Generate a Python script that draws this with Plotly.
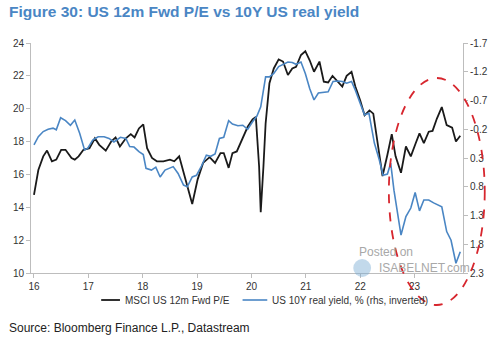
import plotly.graph_objects as go

# ---- data (x in years since 2000) ----
pe_x = [16.00,16.08,16.17,16.24,16.33,16.41,16.50,16.58,16.69,16.75,16.82,16.91,
        17.02,17.12,17.20,17.32,17.42,17.50,17.58,17.69,17.78,17.85,17.93,
        18.01,18.08,18.17,18.26,18.38,18.50,18.58,18.67,18.79,18.91,
        19.01,19.11,19.23,19.33,19.43,19.49,19.58,19.65,19.73,19.84,19.93,
        20.02,20.08,20.14,20.17,20.22,20.26,20.33,20.41,20.50,20.58,20.67,20.75,20.82,20.91,20.99,
        21.07,21.15,21.25,21.33,21.41,21.49,21.59,21.67,21.75,21.84,21.91,
        22.00,22.08,22.17,22.24,22.32,22.41,22.50,22.58,22.65,22.75,22.84,22.93,
        23.02,23.09,23.17,23.26,23.33,23.41,23.50,23.59,23.69,23.76,23.84]
pe_y = [14.75,16.27,17.1,17.45,16.8,16.9,17.5,17.5,17.0,16.9,17.1,17.5,
        17.6,18.2,17.8,17.45,18.0,18.25,17.7,18.2,18.45,18.25,18.8,
        19.05,17.6,17.0,16.8,16.8,16.9,16.8,17.1,15.7,14.2,
        15.7,16.7,17.05,16.7,17.3,17.3,16.4,17.3,17.4,18.2,18.9,
        19.35,19.5,16.5,13.7,16.5,19.1,21.55,22.45,23.0,22.87,22.05,22.45,22.55,23.27,23.5,
        22.95,22.25,22.87,21.65,21.6,22.0,21.65,21.35,22.0,22.25,21.35,
        20.5,19.6,19.9,19.7,17.8,15.9,17.2,18.45,17.1,16.1,17.7,17.1,
        17.9,18.5,17.9,18.6,18.65,19.4,20.1,19.0,18.85,18.0,18.35]

ry_x = [16.00,16.08,16.17,16.26,16.35,16.41,16.49,16.58,16.67,16.75,16.84,16.93,16.99,
        17.08,17.18,17.29,17.38,17.47,17.59,17.69,17.76,17.84,17.93,
        18.01,18.06,18.16,18.24,18.32,18.41,18.56,18.65,18.75,18.82,18.91,18.99,
        19.08,19.17,19.25,19.33,19.41,19.49,19.58,19.65,19.75,19.84,19.93,
        20.02,20.10,20.17,20.26,20.33,20.41,20.50,20.58,20.67,20.75,20.82,20.91,20.99,
        21.07,21.15,21.23,21.33,21.41,21.50,21.59,21.67,21.75,21.84,21.91,
        22.00,22.08,22.16,22.26,22.35,22.42,22.50,22.56,22.62,22.75,22.84,22.93,
        23.01,23.09,23.17,23.26,23.35,23.50,23.59,23.67,23.76,23.84]
ry_y = [0.07,-0.07,-0.16,-0.20,-0.22,-0.19,-0.40,-0.35,-0.27,-0.36,-0.13,0.16,0.13,
        -0.01,-0.07,-0.07,-0.04,0.02,-0.06,-0.04,0.10,0.11,0.19,
        0.24,0.48,0.51,0.46,0.63,0.51,0.45,0.57,0.77,0.80,0.63,0.60,
        0.44,0.25,0.27,0.23,-0.04,-0.06,-0.35,-0.29,-0.26,-0.27,-0.20,
        -0.33,-0.43,-0.59,-1.11,-1.11,-1.17,-1.29,-1.33,-1.37,-1.36,-1.33,-1.37,-1.17,
        -0.91,-0.71,-0.83,-0.84,-0.85,-1.03,-1.04,-1.03,-1.00,-1.03,-0.88,
        -0.65,-0.45,-0.48,0.04,0.33,0.60,0.58,0.39,0.86,1.64,1.32,1.17,
        0.90,1.22,1.03,1.03,1.08,1.15,1.58,1.73,2.13,1.93]

year_ticks = [16, 17, 18, 19, 20, 21, 22, 23]
year_labels = ["16", "17", "18", "19", "20", "21", "22", "23"]
left_ticks = [10, 12, 14, 16, 18, 20, 22, 24]
right_ticks = [-1.7, -1.2, -0.7, -0.2, 0.3, 0.8, 1.3, 1.8, 2.3]
right_labels = ["-1.7", "-1.2", "-0.7", "-0.2", "0.3", "0.8", "1.3", "1.8", "2.3"]
series_names = ["MSCI US 12m Fwd P/E", "US 10Y real yield, % (rhs, inverted)"]

BLUE = "#4a86c4"
BLACK = "#1a1a1a"
FONT = "Liberation Sans, Arial, sans-serif"

fig = go.Figure()
fig.add_trace(go.Scatter(x=pe_x, y=pe_y, mode="lines", name=series_names[0],
                         line=dict(color=BLACK, width=1.8)))
fig.add_trace(go.Scatter(x=ry_x, y=ry_y, mode="lines", yaxis="y2", name=series_names[1],
                         line=dict(color=BLUE, width=1.6)))

L, R, T, B = 31, 32, 43, 66
W, H = 500, 339
pw, ph = W - L - R, H - T - B

def px(xp):
    return (xp - L) / pw

def py(yp):
    return (H - B - yp) / ph

axis_common = dict(showgrid=False, zeroline=False, showline=True, linecolor="#bdbdbd",
                   linewidth=1, ticks="outside", ticklen=4, tickcolor="#bdbdbd",
                   tickfont=dict(family=FONT, size=10, color="#333333"))

fig.update_layout(
    width=W, height=H,
    margin=dict(l=L, r=R, t=T, b=B),
    paper_bgcolor="white", plot_bgcolor="white",
    font=dict(family=FONT),
    xaxis=dict(range=[15.945, 23.89], tickvals=year_ticks, ticktext=year_labels, **axis_common),
    yaxis=dict(range=[10, 24], tickvals=left_ticks, **axis_common),
    yaxis2=dict(range=[2.3, -1.7], tickvals=right_ticks, ticktext=right_labels,
                overlaying="y", side="right", **axis_common),
    showlegend=False,
)

# legend (drawn manually)
legend_items = [(series_names[0], BLACK, 1.8, 102, 121, 124),
                (series_names[1], BLUE, 1.6, 245, 270, 273)]
for name, col, w, a, b, tx in legend_items:
    fig.add_shape(type="line", xref="paper", yref="paper", x0=px(a), x1=px(b),
                  y0=py(300), y1=py(300), line=dict(color=col, width=w))
    fig.add_annotation(text=name, xref="paper", yref="paper", x=px(tx), y=py(300),
                       xanchor="left", yanchor="middle", showarrow=False,
                       font=dict(family=FONT, size=10, color="#333333"))

# title and source
fig.add_annotation(text="<b>Figure 30: US 12m Fwd P/E vs 10Y US real yield</b>",
                   xref="paper", yref="paper", x=px(7), y=py(12), xanchor="left", yanchor="middle",
                   showarrow=False, font=dict(family=FONT, size=15.5, color=BLUE))
fig.add_annotation(text="Source: Bloomberg Finance L.P., Datastream",
                   xref="paper", yref="paper", x=px(7), y=py(328), xanchor="left", yanchor="middle",
                   showarrow=False, font=dict(family=FONT, size=12, color="#222222"))

# watermark
fig.add_annotation(text="Posted on", xref="paper", yref="paper", x=px(361), y=py(252),
                   xanchor="left", yanchor="middle", showarrow=False,
                   font=dict(family=FONT, size=12, color="#a8a8a8"))
fig.add_annotation(text="ISABELNET.com", xref="paper", yref="paper", x=px(381), y=py(268),
                   xanchor="left", yanchor="middle", showarrow=False,
                   font=dict(family=FONT, size=12, color="#a8a8a8"))
fig.add_shape(type="circle", xref="paper", yref="paper",
              x0=px(357), x1=px(375), y0=py(277), y1=py(259),
              fillcolor="rgba(120,170,210,0.45)", line=dict(width=0), layer="above")

# red dashed ellipse
fig.add_shape(type="circle", xref="paper", yref="paper",
              x0=px(393), x1=px(490), y0=py(305), y1=py(78),
              line=dict(color="#d7262e", width=1.8, dash="dash"), layer="above")

fig.write_html("out.html")
